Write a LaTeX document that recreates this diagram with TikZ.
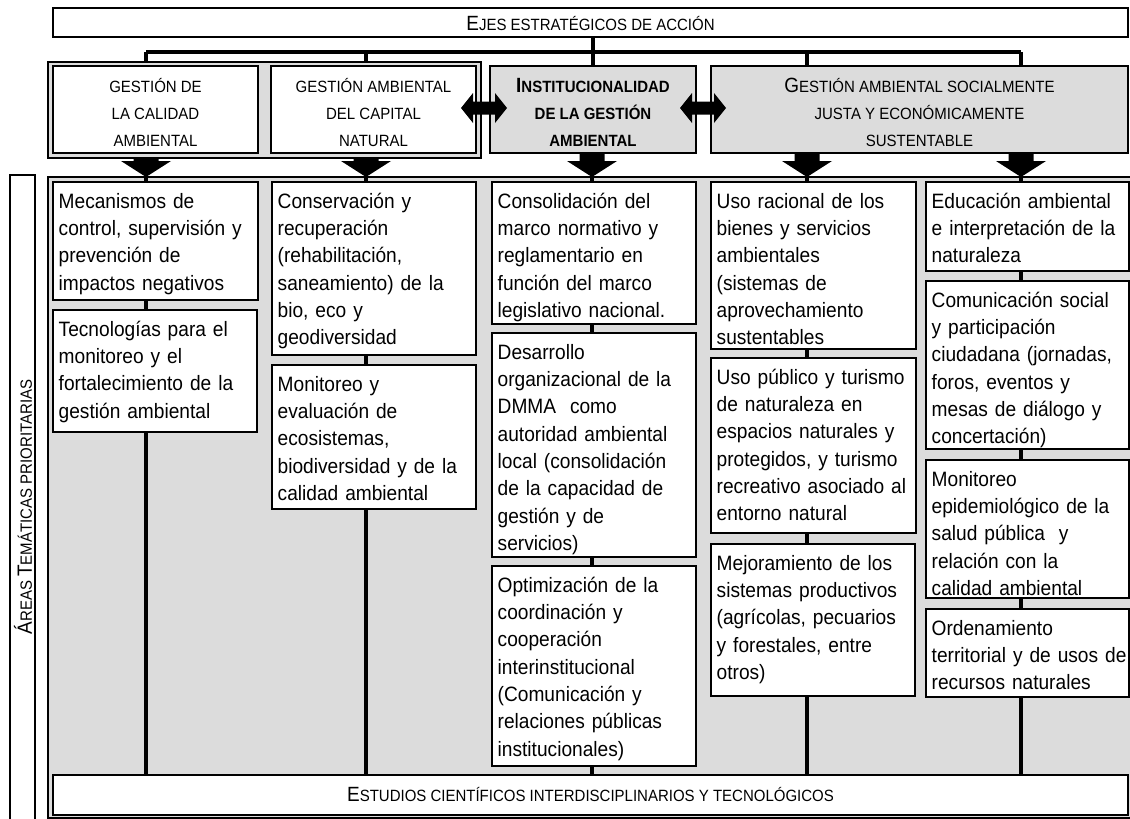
\documentclass[tikz,border=0pt]{standalone}
\usepackage{fontspec}
\setmainfont[FakeStretch=0.92]{Liberation Sans}
\usetikzlibrary{fit}
\definecolor{gfill}{RGB}{220,220,220}
\newcommand\bodyf{\fontsize{20.8}{27.3}\selectfont}
\newcommand\hdrf{\fontsize{16.3}{27}\selectfont}
\newcommand\Bg[1]{{\fontsize{20.6}{27}\selectfont #1}}
\newcommand\tbox[6]{%
  \node[wbox, fit={(#2,#3) (#4,#5)}] (#1) {};
  \begin{scope}
    \clip (#1.south west) rectangle (#1.north east);
    \node[btext] (#1-t) at ([xshift=5.5pt]#1.north west) {\rule{0pt}{26pt}#6};
  \end{scope}
  \draw[bl] (#1.south west) rectangle (#1.north east);
}
\newcommand\dnarrow[3]{\fill (#1-12.5,#2) -- (#1+12.5,#2) -- (#1+12.5,#3-16) -- (#1+25,#3-16) -- (#1,#3) -- (#1-25,#3-16) -- (#1-12.5,#3-16) -- cycle;}
\newcommand\lrarrow[2]{\fill (#1-23,#2) -- (#1-11,#2-15) -- (#1-11,#2-6.5) -- (#1+11,#2-6.5) -- (#1+11,#2-15) -- (#1+23,#2) -- (#1+11,#2+15) -- (#1+11,#2+6.5) -- (#1-11,#2+6.5) -- (#1-11,#2+15) -- cycle;}
\begin{document}
\begin{tikzpicture}[x=1pt,y=-1pt,line join=miter,
  bl/.style={line width=2pt},
  wbox/.style={draw, line width=2pt, fill=white, inner sep=0pt, outer sep=0pt},
  gbox/.style={draw, line width=2pt, fill=gfill, inner sep=0pt, outer sep=0pt},
  bus/.style={line width=3.3pt},
  col/.style={line width=3.3pt},
  hdrtext/.style={anchor=north, inner sep=0pt, align=center, font=\hdrf},
  btext/.style={anchor=north west, inner sep=0pt, align=left, text width=230pt, font=\bodyf}]
\useasboundingbox (0,0) rectangle (1130,819);
% lower area and label
\node[gbox, fit={(48,177) (1134,818)}] (area) {};
\node[wbox, fit={(10,175) (35,822)}] (lab) {};
\node[rotate=90, inner sep=0pt, font=\hdrf] (labt) at (23,507) {\Bg{Á}REAS \Bg{T}EMÁTICAS PRIORITARIAS};
% top box
\node[wbox, fit={(53,8) (1128,37)}] (ejes) {};
\node[hdrtext] (ejest) at (590.5,10) {\rule{0pt}{20pt}\Bg{E}JES ESTRATÉGICOS DE ACCIÓN};
% header boxes
\node[gbox, fit={(48,62) (481,158)}] (lframe) {};
\node[wbox, fit={(53,66) (258,153)}] (h1) {};
\node[wbox, fit={(271,66) (476,153)}] (h2) {};
\node[gbox, fit={(490,66) (696,153)}] (h3) {};
\node[gbox, fit={(711,66) (1128,153)}] (h4) {};
\node[hdrtext] (h1t) at (155.5,72) {\rule{0pt}{20pt}GESTIÓN DE\\LA CALIDAD\\AMBIENTAL};
\node[hdrtext] (h2t) at (373.5,72) {\rule{0pt}{20pt}GESTIÓN AMBIENTAL\\DEL CAPITAL\\NATURAL};
\node[hdrtext, font=\hdrf\bfseries] (h3t) at (593,72) {\rule{0pt}{20pt}\Bg{I}NSTITUCIONALIDAD\\DE LA GESTIÓN\\AMBIENTAL};
\node[hdrtext] (h4t) at (919.5,72) {\rule{0pt}{20pt}\Bg{G}ESTIÓN AMBIENTAL SOCIALMENTE\\JUSTA Y ECONÓMICAMENTE\\SUSTENTABLE};
% bus
\coordinate (b1) at (146,52);
\coordinate (b2) at (366,52);
\coordinate (b4) at (807,52);
\coordinate (b5) at (1021,52);
\draw[bus] (b1) -- (b5);
\draw[bus] (h3.north |- ejes.south) -- (h3.north);
\draw[bus] (b1) -- (b1 |- lframe.north);
\draw[bus] (b2) -- (b2 |- lframe.north);
\draw[bus] (b4) -- (b4 |- h4.north);
\draw[bus] (b5) -- (b5 |- h4.north);
% bottom box
\node[wbox, fit={(53,775) (1128,815)}] (est) {};
\node[hdrtext] (estt) at (590.5,781) {\rule{0pt}{20pt}\Bg{E}STUDIOS CIENTÍFICOS INTERDISCIPLINARIOS Y TECNOLÓGICOS};
% column lines
\coordinate (t1) at (146,177);
\coordinate (t2) at (366,177);
\coordinate (t3) at (592,177);
\coordinate (t4) at (807,177);
\coordinate (t5) at (1021,177);
\foreach \t in {t1,t2,t3,t4,t5} {\draw[col] (\t) -- (\t |- est.north);}
% block arrows
\dnarrow{146}{158}{177}
\dnarrow{366}{158}{177}
\dnarrow{592}{153}{177}
\dnarrow{807}{153}{177}
\dnarrow{1021}{153}{177}
\lrarrow{484}{108}
\lrarrow{703}{108}
% column boxes
\tbox{c1a}{53}{182}{258}{300}{Mecanismos de\\control, supervisión y\\prevención de\\impactos negativos}
\tbox{c1b}{53}{310}{257}{432}{Tecnologías para el\\monitoreo y el\\fortalecimiento de la\\gestión ambiental}
\tbox{c2a}{272}{182}{476}{355}{Conservación y\\recuperación\\(rehabilitación,\\saneamiento) de la\\bio, eco y\\geodiversidad}
\tbox{c2b}{272}{365}{476}{509}{Monitoreo y\\evaluación de\\ecosistemas,\\biodiversidad y de la\\calidad ambiental}
\tbox{c3a}{492}{182}{696}{324}{Consolidación del\\marco normativo y\\reglamentario en\\función del marco\\legislativo nacional.}
\tbox{c3b}{492}{333}{696}{557}{Desarrollo\\organizacional de la\\DMMA~ como\\autoridad ambiental\\local (consolidación\\de la capacidad de\\gestión y de\\servicios)}
\tbox{c3c}{492}{566}{696}{766}{Optimización de la\\coordinación y\\cooperación\\interinstitucional\\(Comunicación y\\relaciones públicas\\institucionales)}
\tbox{c4a}{711}{182}{916}{349}{Uso racional de los\\bienes y servicios\\ambientales\\(sistemas de\\aprovechamiento\\sustentables}
\tbox{c4b}{711}{358}{916}{533}{Uso público y turismo\\de naturaleza en\\espacios naturales y\\protegidos, y turismo\\recreativo asociado al\\entorno natural}
\tbox{c4c}{711}{544}{915}{696}{Mejoramiento de los\\sistemas productivos\\(agrícolas, pecuarios\\y forestales, entre\\otros)}
\tbox{c5a}{926}{182}{1129}{271}{Educación ambiental\\e interpretación de la\\naturaleza}
\tbox{c5b}{926}{281}{1129}{449}{Comunicación social\\y participación\\ciudadana (jornadas,\\foros, eventos y\\mesas de diálogo y\\concertación)}
\tbox{c5c}{926}{460}{1129}{598}{Monitoreo\\epidemiológico de la\\salud pública~ y\\relación con la\\calidad ambiental}
\tbox{c5d}{926}{609}{1129}{697}{Ordenamiento\\territorial y de usos de\\recursos naturales}
\end{tikzpicture}
\end{document}
